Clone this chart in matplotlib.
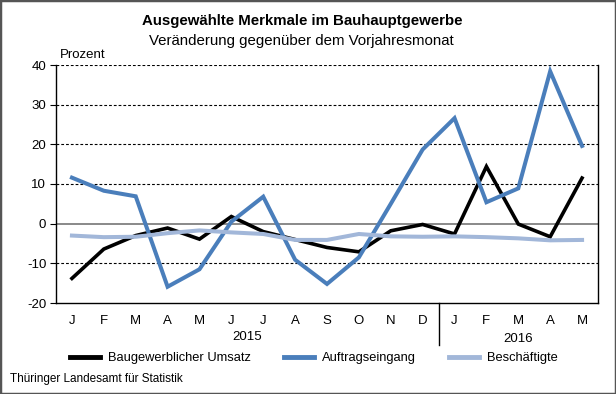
import matplotlib
matplotlib.use("Agg")
import matplotlib.pyplot as plt
from matplotlib.patches import Rectangle
from matplotlib.lines import Line2D
import matplotlib.transforms as mtransforms

plt.rcParams['font.family'] = ['Liberation Sans', 'DejaVu Sans']

months = ["J", "F", "M", "A", "M", "J", "J", "A", "S", "O", "N", "D",
          "J", "F", "M", "A", "M"]
years = ["2015", "2016"]
umsatz = [-13.8, -6.4, -3.0, -1.1, -3.9, 1.8, -2.0, -4.0, -6.0, -7.1, -1.8, -0.2,
          -2.6, 14.4, -0.1, -3.3, 11.5]
auftrag = [11.6, 8.3, 6.9, -15.9, -11.5, 0.5, 6.8, -9.1, -15.2, -8.5, 5.0, 18.7,
           26.6, 5.4, 8.9, 38.4, 19.6]
besch = [-3.0, -3.4, -3.3, -2.4, -1.7, -2.2, -2.6, -4.1, -4.1, -2.6, -3.2, -3.3,
         -3.2, -3.4, -3.7, -4.2, -4.1]
labels = ["Baugewerblicher Umsatz", "Auftragseingang", "Beschäftigte"]
colors = ["#000000", "#4A7EBB", "#A2B7D9"]

W, H = 616, 394
fig = plt.figure(figsize=(W / 100, H / 100), dpi=100)
fig.patches.append(Rectangle((0, 0), 1, 1, transform=fig.transFigure,
                             fill=False, edgecolor="#555555", linewidth=2.5))

ax = fig.add_axes([56 / W, 1 - 303 / H, (598 - 56) / W, (303 - 65) / H])
x = list(range(len(months)))

for yv in [-10, 10, 20, 30, 40]:
    ax.axhline(yv, color="black", linestyle=(0, (2.5, 1.8)), linewidth=0.8, zorder=1)
ax.axhline(0, color="#808080", linewidth=1.3, zorder=1)

ax.plot(x, umsatz, color=colors[0], linewidth=2.6, zorder=3, solid_joinstyle="miter")
ax.plot(x, auftrag, color=colors[1], linewidth=2.9, zorder=4, solid_joinstyle="miter")
ax.plot(x, besch, color=colors[2], linewidth=2.9, zorder=5)

ax.set_xlim(-0.5, len(months) - 0.5)
ax.set_ylim(-20, 40)
ax.set_yticks([-20, -10, 0, 10, 20, 30, 40])
ax.set_yticklabels(["-20", "-10", "0", "10", "20", "30", "40"])
ax.tick_params(axis="y", direction="out", length=4, width=0.8, labelsize=9.5, pad=3)
ax.set_xticks(x)
ax.set_xticklabels(months)
ax.tick_params(axis="x", length=0, labelsize=9.5, pad=9)
for s in ["left", "right", "bottom"]:
    ax.spines[s].set_color("black")
    ax.spines[s].set_linewidth(1.0)
ax.spines["top"].set_visible(False)

trans = mtransforms.blended_transform_factory(ax.transData, ax.transAxes)
ax.add_line(Line2D([11.5, 11.5], [0, -(345 - 303) / 238], transform=trans,
                   color="black", linewidth=1.0, clip_on=False))
ax.text(5.5, -(337 - 303) / 238, years[0], transform=trans, ha="center",
        va="center", fontsize=9.5)
ax.text(14.0, -(339 - 303) / 238, years[1], transform=trans, ha="center",
        va="center", fontsize=9.5)

fig.text(0.49, 1 - 21 / H, "Ausgewählte Merkmale im Bauhauptgewerbe", ha="center",
         va="center", fontsize=10.8, fontweight="bold")
fig.text(0.49, 1 - 41 / H, "Veränderung gegenüber dem Vorjahresmonat", ha="center",
         va="center", fontsize=10.8)
fig.text(60 / W, 1 - 55 / H, "Prozent", ha="left", va="center", fontsize=9.5)

handles = [Line2D([], [], color=c, linewidth=3.5) for c in colors]
fig.legend(handles, labels, loc="center", bbox_to_anchor=(314 / W, 1 - 358 / H),
           ncol=3, frameon=False, fontsize=9.3, handlelength=2.3,
           handletextpad=0.6, columnspacing=2.6)

fig.text(10 / W, 1 - 379 / H, "Thüringer Landesamt für Statistik", ha="left",
         va="center", fontsize=8.5)

fig.savefig("out.png", dpi=100)
